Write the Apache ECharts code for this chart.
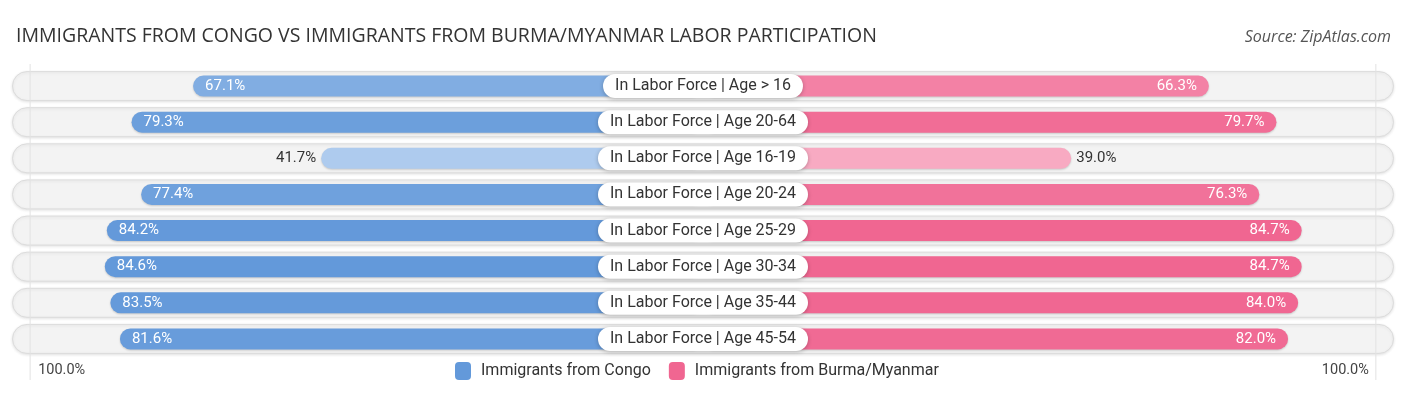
<!DOCTYPE html>
<html>
<head>
<meta charset="utf-8">
<script src="https://cdn.jsdelivr.net/npm/echarts@6/dist/echarts.min.js"></script>
<style>
html,body{margin:0;padding:0;background:#fff;}
#chart{width:1406px;height:395px;}
</style>
</head>
<body>
<div id="chart"></div>
<script>
const categories = [
  "In Labor Force | Age > 16",
  "In Labor Force | Age 20-64",
  "In Labor Force | Age 16-19",
  "In Labor Force | Age 20-24",
  "In Labor Force | Age 25-29",
  "In Labor Force | Age 30-34",
  "In Labor Force | Age 35-44",
  "In Labor Force | Age 45-54"
];
const congo = [67.1, 79.3, 41.7, 77.4, 84.2, 84.6, 83.5, 81.6];
const burma = [66.3, 79.7, 39.0, 76.3, 84.7, 84.7, 84.0, 82.0];
const seriesNames = ["Immigrants from Congo", "Immigrants from Burma/Myanmar"];
const tickLabels = ["100.0%", "100.0%"];

const OFF = 34;      // visual offset so bars clear the centre label
const RANGE = 137;   // half-range of the value axis

function mix(c1, c2, t) {
  t = Math.max(0, Math.min(1, t));
  const a = c1.match(/\w\w/g).map(h => parseInt(h, 16));
  const b = c2.match(/\w\w/g).map(h => parseInt(h, 16));
  return '#' + a.map((v, i) => Math.round(v + (b[i] - v) * t).toString(16).padStart(2, '0')).join('');
}
const blueColor = v => mix('#aecbee', '#6399da', (v - 41.7) / (84.5 - 41.7));
const pinkColor = v => mix('#f8aac2', '#f06691', (v - 39.0) / (84.7 - 39.0));

const FONT = 'Roboto, "Noto Sans", sans-serif';

const chart = echarts.init(document.getElementById('chart'), null, {renderer: 'canvas'});

function sideSeries(name, values, sign, colorFn) {
  return {
    name: name,
    type: 'bar',
    xAxisIndex: 0,
    yAxisIndex: 0,
    stack: 'd',
    barWidth: 21,
    z: 3,
    data: values.map(v => {
      const inside = v >= 50;
      return {
        value: sign * (v + OFF),
        itemStyle: {
          color: colorFn(v),
          borderRadius: 10.5,
          shadowColor: 'rgba(0,0,0,0.18)',
          shadowBlur: 2,
          shadowOffsetY: 1
        },
        label: {
          show: true,
          position: inside ? (sign < 0 ? 'insideLeft' : 'insideRight') : (sign < 0 ? 'left' : 'right'),
          distance: inside ? 12 : 5,
          color: inside ? '#ffffff' : '#333333',
          fontSize: 15,
          fontFamily: FONT,
          formatter: () => v.toFixed(1) + '%'
        }
      };
    })
  };
}

const option = {
  animation: false,
  backgroundColor: '#ffffff',
  title: [
    {
      text: 'IMMIGRANTS FROM CONGO VS IMMIGRANTS FROM BURMA/MYANMAR LABOR PARTICIPATION',
      left: 11, top: 21,
      textStyle: {fontSize: 19.5, fontWeight: 400, color: '#333333', fontFamily: '"Open Sans", sans-serif'}
    },
    {
      text: 'Source: ZipAtlas.com',
      right: 10, top: 24,
      textStyle: {fontSize: 16, fontWeight: 400, fontStyle: 'italic', color: '#555555', fontFamily: '"Open Sans", sans-serif'}
    }
  ],
  legend: {
    top: 357,
    left: 450,
    itemWidth: 16,
    itemHeight: 18,
    itemGap: 18,
    icon: 'roundRect',
    textStyle: {fontSize: 16, color: '#333333', fontFamily: FONT, padding: [0, 0, 0, 5]},
    data: [
      {name: seriesNames[0], itemStyle: {color: '#6399da'}},
      {name: seriesNames[1], itemStyle: {color: '#f06691'}}
    ]
  },
  grid: {left: 12, right: 12, top: 68, bottom: 38},
  xAxis: [
    {type: 'value', min: -RANGE, max: RANGE, show: false},
    {type: 'value', min: 0, max: 1, show: false}
  ],
  yAxis: [
    {type: 'category', data: categories, inverse: true, show: false},
    {type: 'category', data: categories, inverse: true, show: false}
  ],
  series: [
    {
      type: 'bar',
      xAxisIndex: 1,
      yAxisIndex: 1,
      barWidth: 30,
      silent: true,
      z: 1,
      data: categories.map(() => 1),
      itemStyle: {
        color: '#f3f3f3',
        borderColor: '#dcdcdc',
        borderWidth: 1,
        borderRadius: 15,
        shadowColor: 'rgba(0,0,0,0.10)',
        shadowBlur: 3,
        shadowOffsetY: 1
      }
    },
    sideSeries(seriesNames[0], congo, -1, blueColor),
    sideSeries(seriesNames[1], burma, 1, pinkColor),
    {
      type: 'scatter',
      xAxisIndex: 0,
      yAxisIndex: 0,
      symbol: 'circle',
      symbolSize: 1,
      silent: true,
      z: 10,
      itemStyle: {color: '#ffffff', opacity: 1},
      data: categories.map((c, i) => [0, i]),
      label: {
        show: true,
        position: 'inside',
        formatter: p => categories[p.dataIndex],
        backgroundColor: '#ffffff',
        borderRadius: 12,
        padding: [4, 12, 4, 12],
        color: '#333333',
        fontSize: 16,
        fontFamily: FONT,
        shadowColor: 'rgba(0,0,0,0.25)',
        shadowBlur: 4,
        shadowOffsetY: 1
      }
    }
  ]
};
chart.setOption(option);

const xl = chart.convertToPixel({xAxisIndex: 0}, -(100 + OFF));
const xr = chart.convertToPixel({xAxisIndex: 0}, (100 + OFF));
chart.setOption({
  graphic: [
    {type: 'line', z: 20, silent: true, shape: {x1: xl + 3, y1: 64, x2: xl + 3, y2: 380}, style: {stroke: '#e2e2e2', lineWidth: 1}},
    {type: 'line', z: 20, silent: true, shape: {x1: xr - 3, y1: 64, x2: xr - 3, y2: 380}, style: {stroke: '#e2e2e2', lineWidth: 1}},
    {type: 'text', z: 20, silent: true, left: xl + 11, top: 363, style: {text: tickLabels[0], fontSize: 14.5, fill: '#444444', fontFamily: FONT}},
    {type: 'text', z: 20, silent: true, right: 1406 - xr + 10, top: 363, style: {text: tickLabels[1], fontSize: 14.5, fill: '#444444', fontFamily: FONT, textAlign: 'right'}}
  ]
});
</script>
</body>
</html>
